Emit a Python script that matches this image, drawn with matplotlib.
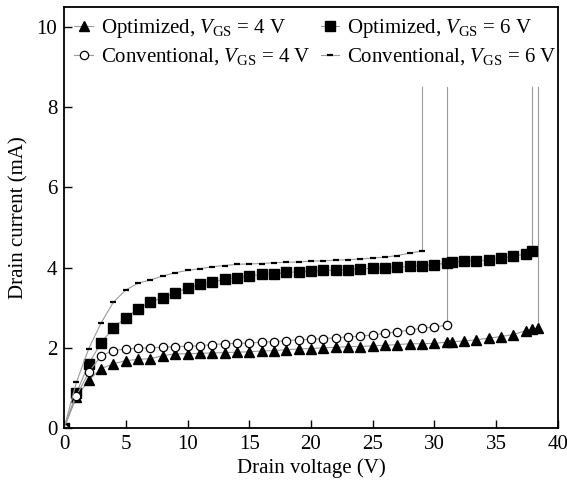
import matplotlib
matplotlib.use("Agg")
import matplotlib.pyplot as plt

# drain voltage (V) for each series
v_opt6 = list(range(0, 32)) + [31.4, 32.4, 33.4, 34.4, 35.4, 36.4, 37.4, 37.9]
v_opt4 = v_opt6 + [38.4]
v_conv4 = list(range(0, 32))
v_conv6 = list(range(0, 30))

# drain current (mA)
i_opt6 = [0, 0.87, 1.6, 2.13, 2.5, 2.75, 2.97, 3.14, 3.25, 3.37, 3.50, 3.58,
          3.64, 3.71, 3.75, 3.79, 3.83, 3.85, 3.88, 3.89, 3.91, 3.93, 3.94,
          3.95, 3.97, 3.98, 3.99, 4.01, 4.03, 4.05, 4.07, 4.11,
          4.13, 4.16, 4.17, 4.19, 4.23, 4.28, 4.34, 4.42]
i_opt4 = [0, 0.77, 1.19, 1.48, 1.6, 1.68, 1.71, 1.73, 1.80, 1.85, 1.85, 1.86,
          1.87, 1.88, 1.89, 1.90, 1.92, 1.93, 1.95, 1.97, 1.98, 2.0, 2.01,
          2.03, 2.03, 2.05, 2.06, 2.08, 2.10, 2.10, 2.11, 2.14,
          2.15, 2.17, 2.20, 2.24, 2.28, 2.33, 2.43, 2.47, 2.49]
i_conv4 = [0, 0.8, 1.39, 1.8, 1.93, 1.97, 1.99, 2.0, 2.01, 2.03, 2.04, 2.05,
           2.08, 2.10, 2.11, 2.12, 2.14, 2.15, 2.18, 2.20, 2.21, 2.23, 2.25,
           2.27, 2.29, 2.32, 2.36, 2.40, 2.44, 2.49, 2.52, 2.56]
i_conv6 = [0, 1.14, 1.98, 2.62, 3.14, 3.44, 3.61, 3.69, 3.79, 3.87, 3.93, 3.97,
           4.02, 4.05, 4.08, 4.09, 4.10, 4.12, 4.13, 4.14, 4.16, 4.17, 4.18,
           4.20, 4.21, 4.24, 4.26, 4.30, 4.36, 4.41]

# current reached at breakdown (end of the vertical jump)
i_breakdown = 8.5

labels = [
    "Optimized, $V_{\\rm GS}$ = 4 V",
    "Optimized, $V_{\\rm GS}$ = 6 V",
    "Conventional, $V_{\\rm GS}$ = 4 V",
    "Conventional, $V_{\\rm GS}$ = 6 V",
]

plt.rcParams["font.family"] = ["Liberation Serif", "DejaVu Serif"]
plt.rcParams["mathtext.fontset"] = "custom"
plt.rcParams["mathtext.rm"] = "Liberation Serif"
plt.rcParams["mathtext.it"] = "Liberation Serif:italic"

fig = plt.figure(figsize=(5.67, 4.88), dpi=100)
ax = fig.add_axes([0.113, 0.123, 0.871, 0.863])

line_kw = dict(color="#9a9a9a", lw=0.8)

series = [
    (v_opt4, i_opt4, "^", dict(ms=6.5, mfc="black", mec="black")),
    (v_opt6, i_opt6, "s", dict(ms=6.5, mfc="black", mec="black")),
    (v_conv4, i_conv4, "o", dict(ms=6, mfc="white", mec="black", mew=0.9)),
    (v_conv6, i_conv6, "_", dict(ms=5, mec="black", mew=1.6)),
]

handles = []
for (x, y, m, mk), lab in zip(series, labels):
    # breakdown jump
    ax.plot([x[-1], x[-1]], [y[-1], i_breakdown], **line_kw, zorder=1)
    h, = ax.plot(x, y, marker=m, linestyle="-", label=lab, zorder=2,
                 **line_kw, **mk)
    handles.append(h)

ax.set_xlim(0, 40)
ax.set_ylim(0, 10.5)
ax.set_xticks(range(0, 41, 5))
ax.set_yticks(range(0, 11, 2))
ax.tick_params(direction="in", length=6, width=1, labelsize=15, pad=5,
               top=False, right=False)
for s in ax.spines.values():
    s.set_linewidth(1.3)

ax.set_xlabel("Drain voltage (V)", fontsize=15, labelpad=3)
ax.set_ylabel("Drain current (mA)", fontsize=15, labelpad=6)

# row-wise order: legend with ncol=2 fills columns first
order = [0, 2, 1, 3]
ax.legend(handles=[handles[k] for k in order], loc="upper left", ncol=2,
          frameon=False, fontsize=15, handlelength=0.9, handletextpad=0.35,
          columnspacing=0.5, borderaxespad=0.4, borderpad=0.1,
          labelspacing=0.3, bbox_to_anchor=(0.0, 1.0))

fig.savefig("out.png", dpi=100)
